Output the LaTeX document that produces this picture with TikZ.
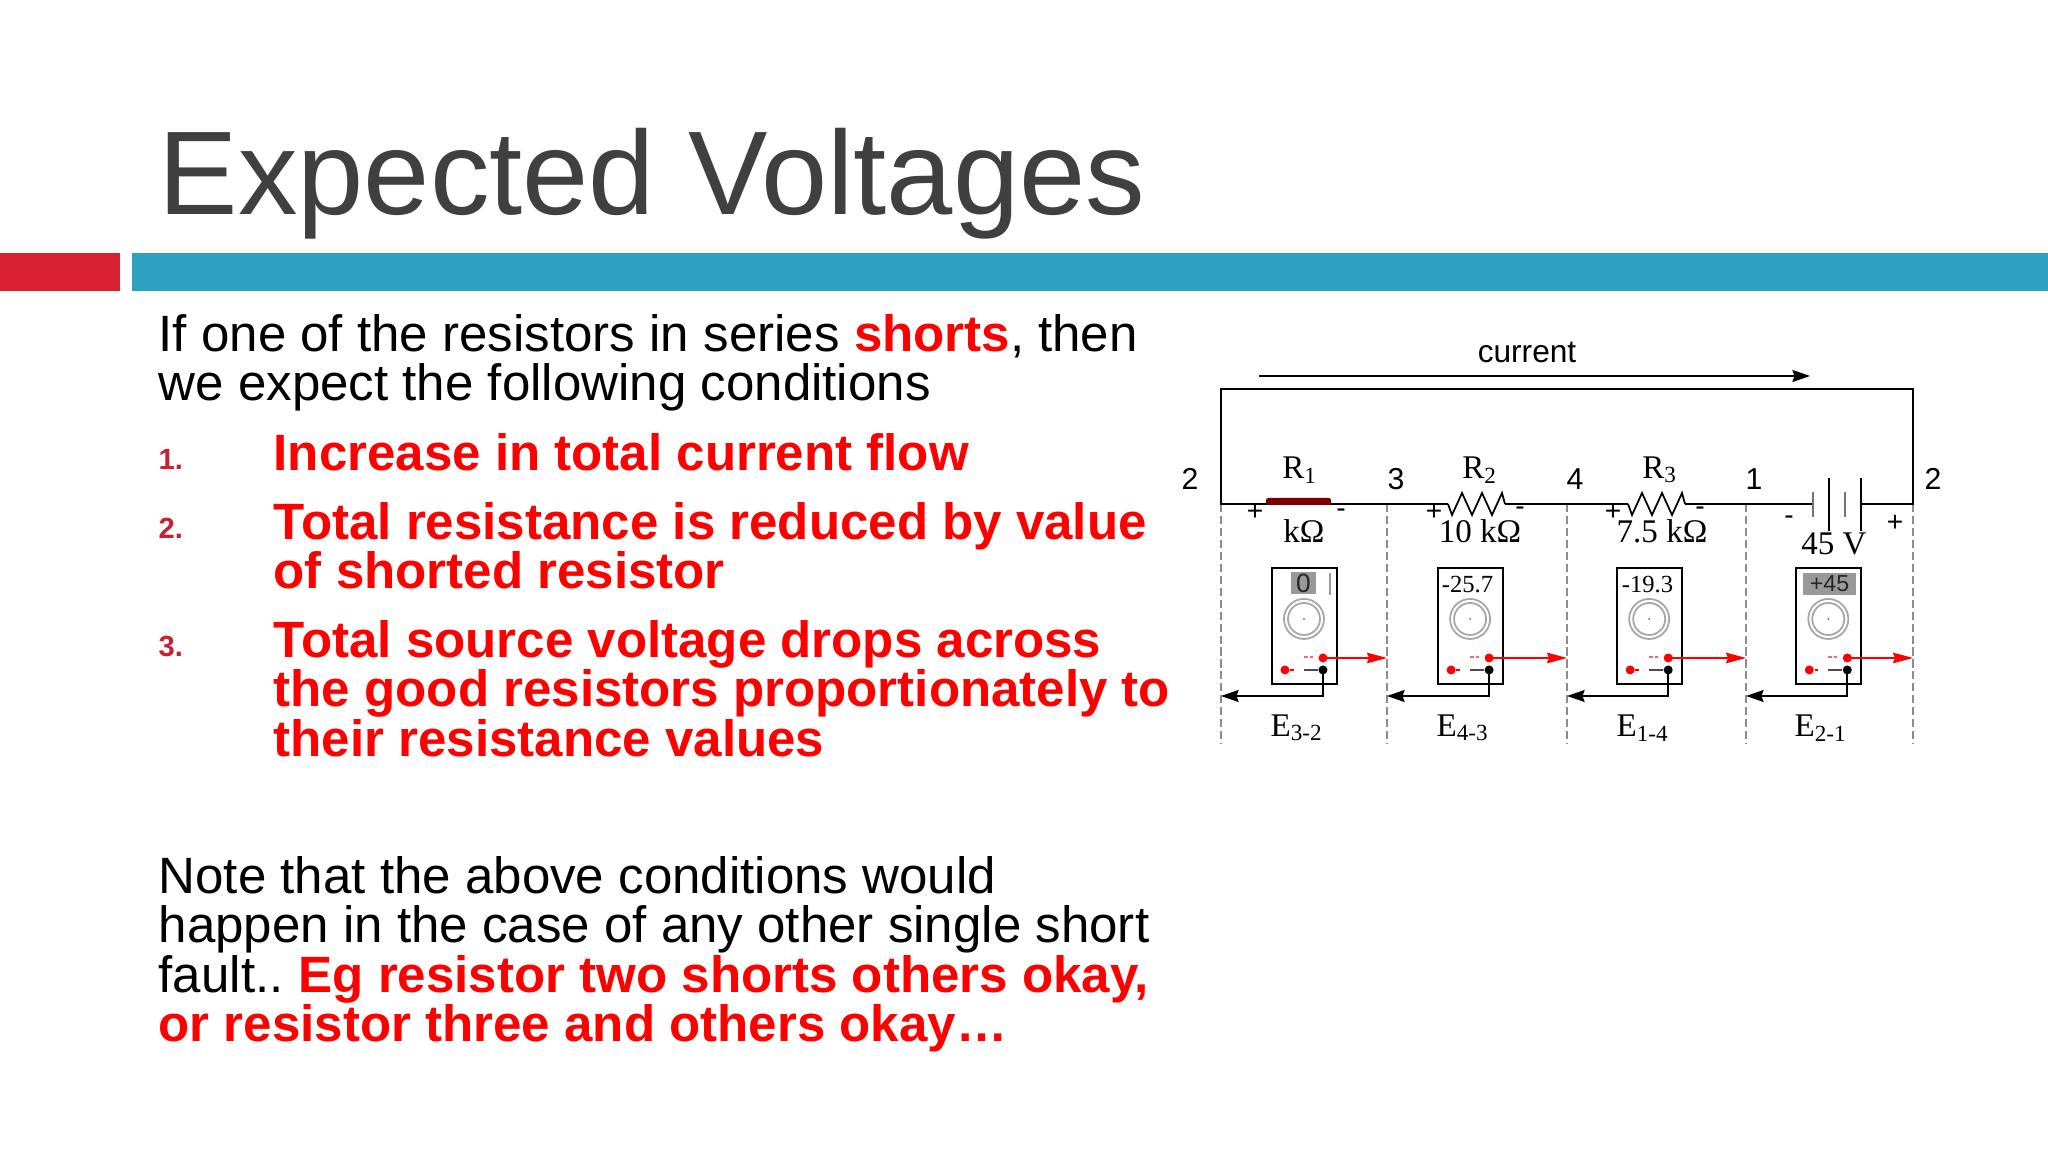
\documentclass[tikz,border=0pt]{standalone}
\usepackage{fontspec}
\usepackage{xcolor}
\usepackage{tikz}
\usetikzlibrary{positioning,arrows.meta}
\setmainfont{Liberation Sans}
\newfontfamily\serifcap{Liberation Serif}
\definecolor{mytitle}{RGB}{64,64,64}
\definecolor{myred}{RGB}{217,32,48}
\definecolor{mynum}{RGB}{200,32,48}
\definecolor{myteal}{RGB}{46,160,192}
\definecolor{myshort}{RGB}{122,0,0}
\definecolor{mygray}{RGB}{140,140,140}
\newcommand{\bodyfont}{\fontsize{14.52pt}{14.05pt}\selectfont}
\newcommand{\meterface}[1]{
  \node[dial] (#1dial) at ([shift={(32,51)}]#1.north west) {};
  \node[innerdial] (#1in) at (#1dial) {};
  \node[pin, fill=black!60, minimum size=0.02cm] (#1mid) at (#1dial) {};
  \node[pin, fill=red] (#1pos) at ([shift={(51,90)}]#1.north west) {};
  \node[pin, fill=black] (#1neg) at ([shift={(51,102)}]#1.north west) {};
  \node[pin, fill=red] (#1hole) at ([shift={(13,102)}]#1.north west) {};
  \draw[draw=red!60, line width=0.5pt, dash pattern=on 1pt off 0.6pt] ([shift={(32,89)}]#1.north west) -- ([shift={(42,89)}]#1.north west);
  \draw[draw=black!70, line width=0.8pt] ([shift={(32,102)}]#1.north west) -- (#1neg);
  \draw[draw=red, line width=0.5pt] (#1hole) -- ++(9,0);
}

\begin{document}
\begin{tikzpicture}[x=0.01cm, y=-0.01cm,
    wire/.style={draw=black, line width=0.5pt},
    probe/.style={draw=red, line width=0.5pt, -{Stealth[length=5.7pt,width=3pt,inset=0.6pt]}},
    lead/.style={draw=black, line width=0.5pt, -{Stealth[length=5pt,width=3.4pt,inset=0.6pt]}},
    cut/.style={draw=mygray, line width=0.4pt, dash pattern=on 2.3pt off 1.1pt},
    meter/.style={draw=black, line width=0.6pt, fill=white, inner sep=0pt, outer sep=0pt, minimum width=0.65cm, minimum height=1.16cm},
    dial/.style={circle, draw=black!35, line width=0.5pt, inner sep=0pt, minimum size=0.4cm},
    innerdial/.style={circle, draw=black!35, line width=0.5pt, inner sep=0pt, minimum size=0.32cm},
    pin/.style={circle, inner sep=0pt, minimum size=0.09cm},
    readout/.style={font=\serifcap\fontsize{7pt}{7pt}\selectfont, inner sep=0pt},
    greyout/.style={fill=black!40, inner sep=0pt, text=black!85},
    tag/.style={font=\serifcap\fontsize{9.4pt}{9.4pt}\selectfont, inner sep=0pt},
    pointname/.style={font=\fontsize{8.6pt}{8.6pt}\selectfont, inner sep=0pt},
    sign/.style={font=\fontsize{8pt}{8pt}\selectfont, inner sep=0pt},
    body/.style={font=\bodyfont, align=left, anchor=north west, inner sep=0pt},
    listnum/.style={font=\fontsize{8.3pt}{8.3pt}\bfseries\selectfont, text=mynum, inner sep=0pt, anchor=west},
    listbody/.style={font=\bodyfont\bfseries, text=red, align=left, anchor=north west, inner sep=0pt}]
  \useasboundingbox (0,0) rectangle (2048,1152);

  % title and bars
  \node[font=\fontsize{33.86pt}{33.86pt}\selectfont, text=mytitle, anchor=base west, inner sep=0pt] (title) at (158,215) {Expected Voltages};
  \fill[myred] (0,252.7) rectangle (120,291);
  \fill[myteal] (132,252.7) rectangle (2048,291);

  % text
  \node[body] (intro) at (158,313.5) {If one of the resistors in series \textcolor{red}{\textbf{shorts}}, then\\we expect the following conditions};
  \node[listnum] (num1) at (158,459) {1.};
  \node[listbody] (item1) at (273,432.5) {Increase in total current flow};
  \node[listnum] (num2) at (158,528) {2.};
  \node[listbody] (item2) at (273,501.5) {Total resistance is reduced by value\\of shorted resistor};
  \node[listnum] (num3) at (158,646) {3.};
  \node[listbody] (item3) at (273,619.5) {Total source voltage drops across\\the good resistors proportionately to\\their resistance values};
  \node[body] (note) at (158,855.5) {Note that the above conditions would\\happen in the case of any other single short\\fault..\hspace{-1.1pt} \textcolor{red}{\textbf{Eg resistor two shorts others okay,}}\\\textcolor{red}{\textbf{or resistor three and others okay\ldots}}};

  % circuit points
  \coordinate (p2) at (1221,504);
  \coordinate (p3) at (1387,504);
  \coordinate (p4) at (1567,504);
  \coordinate (p1) at (1746,504);
  \coordinate (p5) at (1913,504);
  \coordinate (c2) at (1221,389);
  \coordinate (c5) at (1913,389);
  \coordinate (e2) at (1221,744);
  \coordinate (e3) at (1387,744);
  \coordinate (e4) at (1567,744);
  \coordinate (e1) at (1746,744);
  \coordinate (e5) at (1913,744);

  \path[cut] (p2) edge (e2) (p3) edge (e3) (p4) edge (e4) (p1) edge (e1) (p5) edge (e5);

  % loop with parts
  \coordinate (r2a) at (1448,504);
  \coordinate (r2b) at (1505,504);
  \coordinate (r3a) at (1628,504);
  \coordinate (r3b) at (1685,504);
  \coordinate (b1) at (1813,504);
  \coordinate (b2) at (1829,504);
  \coordinate (b3) at (1845,504);
  \coordinate (b4) at (1861,504);
  \draw[wire] (b1) -- (r3b);
  \draw[wire] (r3a) -- (r2b);
  \draw[wire] (r2a) -- (p2) -- (c2) -- (c5) -- (p5) -- (b4);
  \draw[wire] (r2a) -- ++(4,11) -- ++(10,-22) -- ++(10,22) -- ++(10,-22) -- ++(10,22) -- ++(10,-22) -- (r2b);
  \draw[wire] (r3a) -- ++(4,11) -- ++(10,-22) -- ++(10,22) -- ++(10,-22) -- ++(10,22) -- ++(10,-22) -- (r3b);
  \fill[myshort, rounded corners=0.6pt] (1266,498) rectangle (1331,505);
  \draw[draw=black!55, line width=0.6pt] (1813,492) -- (1813,517);
  \draw[wire] (1829,478) -- (1829,531);
  \draw[draw=black!55, line width=0.6pt] (1845,492) -- (1845,517);
  \draw[wire] (1861,478) -- (1861,531);

  % current arrow
  \node[font=\fontsize{9pt}{9pt}\selectfont, inner sep=0pt] (curlabel) at (1527,352) {current};
  \coordinate (cura) at (1259,376);
  \coordinate (curb) at (1810,376);
  \draw[lead] (cura) -- (curb);

  % labels
  \node[pointname] (l2) at (1190,479) {2};
  \node[pointname] (l3) at (1396,479) {3};
  \node[pointname] (l4) at (1575,479) {4};
  \node[pointname] (l1) at (1754,479) {1};
  \node[pointname] (l5) at (1933,479) {2};
  \node[tag] (R1) at (1300,470) {R\textsubscript{1}};
  \node[tag] (R2) at (1480,470) {R\textsubscript{2}};
  \node[tag] (R3) at (1660,470) {R\textsubscript{3}};
  \node[tag] (v1) at (1304,531) {kΩ};
  \node[tag] (v2) at (1480,531) {10 kΩ};
  \node[tag] (v3) at (1662,531) {7.5 kΩ};
  \node[tag] (v4) at (1834,544) {45 V};
  \node[sign] (s1) at (1255,512) {+};
  \node[sign] (s2) at (1341,513) {-};
  \node[sign] (s3) at (1434,512) {+};
  \node[sign] (s4) at (1520,511) {-};
  \node[sign] (s5) at (1613,512) {+};
  \node[sign] (s6) at (1700,511) {-};
  \node[sign] (s7) at (1789,520) {-};
  \node[sign] (s8) at (1895,523) {+};

  % meters
  \node[meter] (M1) at (1304.5,626) {};
  \node[meter] (M2) [right=1.01cm of M1] {};
  \node[meter] (M3) [right=1.14cm of M2] {};
  \node[meter] (M4) [right=1.14cm of M3] {};
  \meterface{M1}
  \meterface{M2}
  \meterface{M3}
  \meterface{M4}
  \node[greyout, font=\fontsize{7.5pt}{7.5pt}\selectfont, minimum width=0.25cm, minimum height=0.21cm] (d1) at (1303.5,583) {0};
  \node[readout] (d2) at (1467.5,585) {-25.7};
  \node[readout] (d3) at (1647.5,585) {-19.3};
  \node[greyout, font=\fontsize{6.6pt}{6.6pt}\selectfont, minimum width=0.53cm, minimum height=0.22cm] (d4) at (1829.5,584) {+45};
  \draw[draw=black!40, line width=0.3pt] (1330,573) -- (1330,595);

  \draw[probe] (M1pos.center) -- (M1pos.center -| p3);
  \draw[probe] (M2pos.center) -- (M2pos.center -| p4);
  \draw[probe] (M3pos.center) -- (M3pos.center -| p1);
  \draw[probe] (M4pos.center) -- (M4pos.center -| p5);
  \draw[lead] (M1neg.center) |- (p2 |- 0,696);
  \draw[lead] (M2neg.center) |- (p3 |- 0,696);
  \draw[lead] (M3neg.center) |- (p4 |- 0,696);
  \draw[lead] (M4neg.center) |- (p1 |- 0,696);

  \node[tag] (E1) at (1297,728) {E\textsubscript{3-2}};
  \node[tag] (E2) at (1463,728) {E\textsubscript{4-3}};
  \node[tag] (E3) at (1643,728) {E\textsubscript{1-4}};
  \node[tag] (E4) at (1821,728) {E\textsubscript{2-1}};
\end{tikzpicture}
\end{document}
